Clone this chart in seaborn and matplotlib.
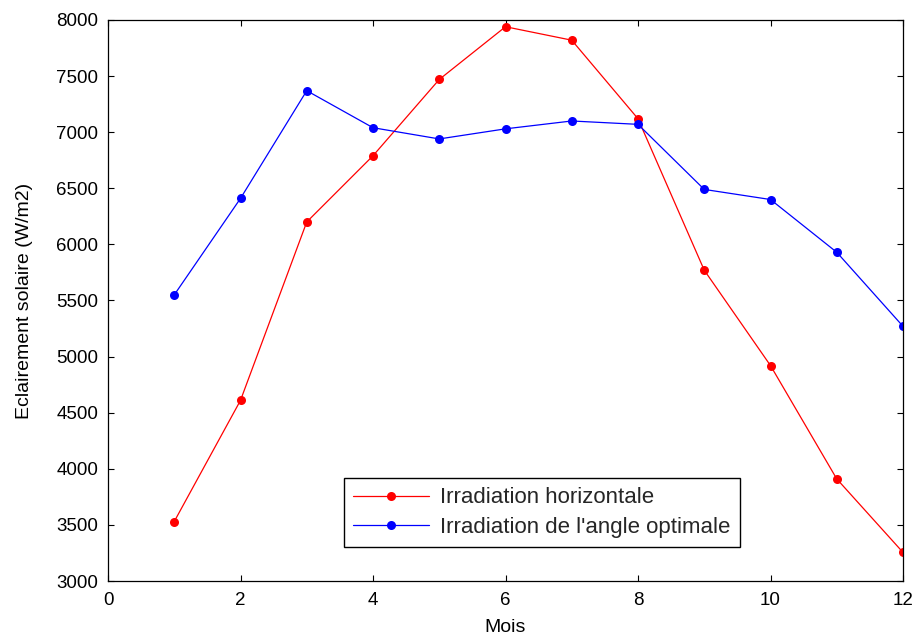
import numpy as np
import pandas as pd
import matplotlib
matplotlib.use("Agg")
import matplotlib.pyplot as plt
import seaborn as sns

# Monthly solar irradiance (W/m2)
mois = [1, 2, 3, 4, 5, 6, 7, 8, 9, 10, 11, 12]
irr_horizontale = [3530, 4610, 6200, 6790, 7470, 7940, 7820, 7120, 5770, 4920, 3910, 3255]
irr_angle_optimal = [5550, 6410, 7370, 7040, 6940, 7030, 7100, 7070, 6490, 6400, 5930, 5270]

serie_noms = ["Irradiation horizontale", "Irradiation de l'angle optimale"]
serie_couleurs = ["#ff0000", "#0000ff"]

xticks = [0, 2, 4, 6, 8, 10, 12]
yticks = [3000, 3500, 4000, 4500, 5000, 5500, 6000, 6500, 7000, 7500, 8000]

df = pd.DataFrame({
    "Mois": mois * 2,
    "Eclairement": irr_horizontale + irr_angle_optimal,
    "Serie": [serie_noms[0]] * len(mois) + [serie_noms[1]] * len(mois),
})

sns.set_theme(style="white")
plt.rcParams["font.family"] = ["Liberation Sans", "DejaVu Sans"]

fig = plt.figure(figsize=(9.19, 6.41), dpi=100)
ax = fig.add_axes([108 / 919, 1 - 581 / 641, (903 - 108) / 919, (581 - 20) / 641])

sns.lineplot(
    data=df, x="Mois", y="Eclairement", hue="Serie",
    palette=dict(zip(serie_noms, serie_couleurs)),
    marker="o", markersize=6.5, markeredgewidth=0, linewidth=0.9,
    ax=ax, legend=False, sort=False,
)

ax.set_xlim(0, 12)
ax.set_ylim(3000, 8000)
ax.set_xticks(xticks)
ax.set_yticks(yticks)
ax.set_xticklabels([str(t) for t in xticks])
ax.set_yticklabels([str(t) for t in yticks])

ax.tick_params(axis="both", which="major", direction="in", length=4, width=0.8,
               color="black", labelsize=13.5, labelcolor="black",
               top=True, right=True, bottom=True, left=True)
ax.tick_params(axis="x", pad=8)
ax.tick_params(axis="y", pad=7)

for sp in ax.spines.values():
    sp.set_visible(True)
    sp.set_color("black")
    sp.set_linewidth(0.9)

ax.set_xlabel("Mois", fontsize=14, color="black", labelpad=7)
ax.set_ylabel("Eclairement solaire (W/m2)", fontsize=14, color="black", labelpad=17)

handles = [
    plt.Line2D([], [], color=c, marker="o", markersize=6.5, markeredgewidth=0, linewidth=0.9)
    for c in serie_couleurs
]
leg = ax.legend(
    handles, serie_noms, loc="upper left",
    bbox_to_anchor=(344 / 919, 1 - 478 / 641), bbox_transform=fig.transFigure,
    borderaxespad=0, fontsize=16, frameon=True, fancybox=False,
    handlelength=3.4, handletextpad=0.5, labelspacing=0.38,
    borderpad=0.42, edgecolor="black",
)
leg.get_frame().set_linewidth(1.0)
leg.get_frame().set_alpha(1)

fig.savefig("out.png", dpi=100, facecolor="white")
